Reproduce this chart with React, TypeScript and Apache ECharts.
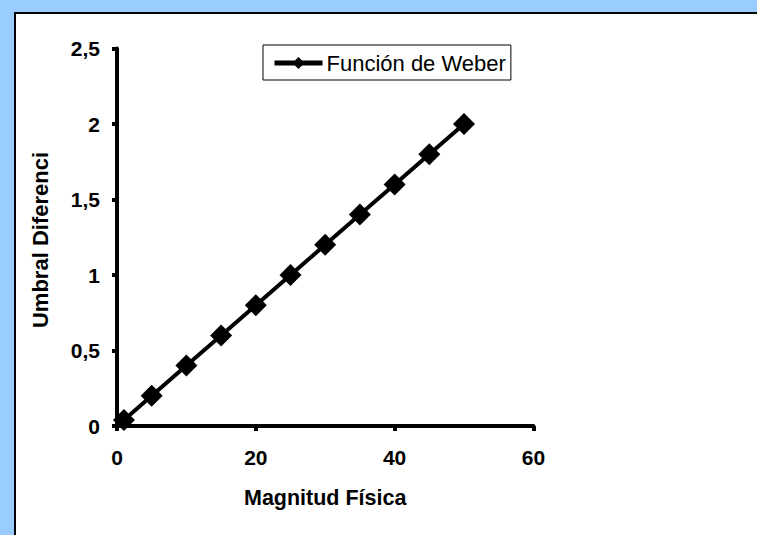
import React, { useEffect, useRef } from "react";
import * as echarts from "echarts";

const magnitudes = [1, 5, 10, 15, 20, 25, 30, 35, 40, 45, 50];
const umbral = [0.04, 0.2, 0.4, 0.6, 0.8, 1.0, 1.2, 1.4, 1.6, 1.8, 2.0];
const seriesName = "Función de Weber";
const xTitle = "Magnitud Física";
const yTitle = "Umbral Diferenci";

const FONT = "'Liberation Sans', Arial, sans-serif";

export default function App() {
  const ref = useRef<HTMLDivElement>(null);
  useEffect(() => {
    if (!ref.current) return;
    const chart = echarts.init(ref.current, null, { renderer: "svg" });
    const data = magnitudes.map((m, i) => [m, umbral[i]]);
    chart.setOption({
      animation: false,
      backgroundColor: "#99CCFF",
      graphic: [
        {
          type: "rect",
          z: -10,
          silent: true,
          shape: { x: 15, y: 13, width: 800, height: 600 },
          style: { fill: "#ffffff", stroke: "#000000", lineWidth: 2 },
        },
        {
          type: "text",
          x: 40,
          y: 240,
          rotation: Math.PI / 2,
          style: {
            text: yTitle,
            fontFamily: FONT,
            fontSize: 22,
            fontWeight: "bold",
            fill: "#000",
            align: "center",
            verticalAlign: "middle",
          },
        },
      ],
      grid: { left: 117, top: 48.5, right: 223.6, bottom: 109 },
      legend: {
        left: 263,
        top: 45,
        orient: "horizontal",
        borderColor: "#000",
        borderWidth: 1,
        backgroundColor: "#fff",
        padding: [7, 5, 6, 9],
        itemWidth: 48,
        itemHeight: 15,
        itemGap: 4,
        lineStyle: { width: 5, color: "#000" },
        textStyle: { fontFamily: FONT, fontSize: 22, color: "#000", padding: [0, 0, 0, -1] },
        data: [seriesName],
      },
      xAxis: {
        type: "value",
        min: 0,
        max: 60,
        interval: 20,
        name: xTitle,
        nameLocation: "middle",
        nameGap: 61,
        nameTextStyle: { fontFamily: FONT, fontSize: 21.5, fontWeight: "bold", color: "#000" },
        splitLine: { show: false },
        axisLine: { lineStyle: { color: "#000", width: 4 } },
        axisTick: { show: true, length: 5, lineStyle: { color: "#000", width: 4 } },
        axisLabel: { fontFamily: FONT, fontSize: 21, fontWeight: "bold", color: "#000", margin: 21 },
      },
      yAxis: {
        type: "value",
        min: 0,
        max: 2.5,
        interval: 0.5,
        splitLine: { show: false },
        axisLine: { show: true, lineStyle: { color: "#000", width: 4 } },
        axisTick: { show: true, length: 5, lineStyle: { color: "#000", width: 4 } },
        axisLabel: {
          fontFamily: FONT,
          fontSize: 21,
          fontWeight: "bold",
          color: "#000",
          margin: 17,
          formatter: (v: number) => String(v).replace(".", ","),
        },
      },
      series: [
        {
          name: seriesName,
          type: "line",
          data,
          symbol: "diamond",
          symbolSize: 22,
          clip: false,
          lineStyle: { color: "#000", width: 4 },
          itemStyle: { color: "#000" },
          z: 5,
        },
      ],
    });
    return () => chart.dispose();
  }, []);
  return (
    <div
      ref={ref}
      style={{ position: "fixed", left: 0, top: 0, width: 757, height: 535 }}
    />
  );
}
